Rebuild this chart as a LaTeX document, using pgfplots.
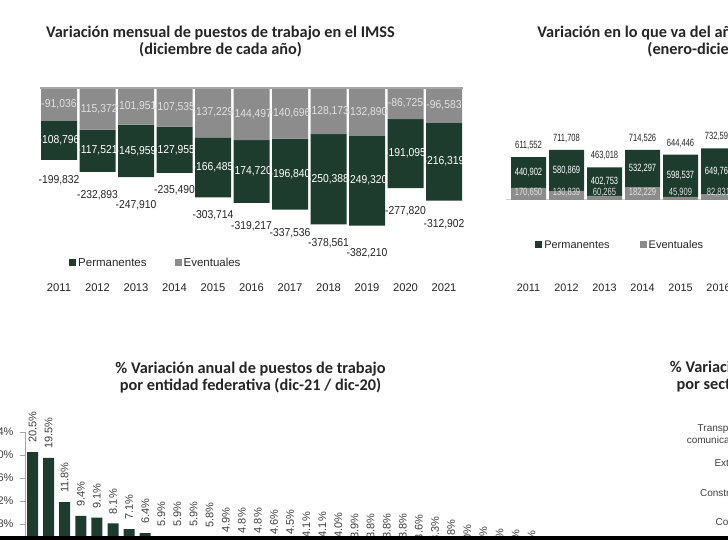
\documentclass[border=0pt]{standalone}
\usepackage{pgfplots}
\pgfplotsset{compat=1.18}
\usepackage{pgfplotstable}
\usepackage{fontspec}
\setmainfont{Liberation Sans}
\newfontfamily\titlefont{Carlito}
\newfontfamily\narrowfont[FakeStretch=0.72]{Liberation Sans}
\newfontfamily\semifont[FakeStretch=0.9]{Liberation Sans}
\definecolor{pgreen}{HTML}{1D3C2E}
\definecolor{egray}{HTML}{8C8C8C}
\definecolor{txt}{HTML}{262626}
\definecolor{lab}{HTML}{404040}
\tikzset{numlab/.style={/pgf/number format/fixed,/pgf/number format/precision=0,/pgf/number format/1000 sep={,},/pgf/number format/assume math mode=true}}

\pgfplotstableread{
x E P T off
0 -91036 -108796 -199832 20
1 -115372 -117521 -232893 23
2 -101951 -145959 -247910 28
3 -107535 -127955 -235490 17
4 -137229 -166485 -303714 18
5 -144497 -174720 -319217 23
6 -140696 -196840 -337536 24
7 -128173 -250388 -378561 19
8 -132890 -249320 -382210 28
9 -86725 -191095 -277820 23
10 -96583 -216319 -312902 24
}\mensual

\pgfplotstableread{
x E P T
0 170650 440902 611552
1 130839 580869 711708
2 60265 402753 463018
3 182229 532297 714526
4 45909 598537 644446
5 82831 649760 732591
}\anual

\pgfplotstableread{
x v
0 20.5
1 19.5
2 11.8
3 9.4
4 9.1
5 8.1
6 7.1
7 6.4
8 5.9
9 5.9
10 5.9
11 5.8
12 4.9
13 4.8
14 4.8
15 4.6
16 4.5
17 4.1
18 4.1
19 4.0
20 3.9
21 3.8
22 3.8
23 3.8
24 3.6
25 3.3
26 2.8
27 2.0
28 1.6
29 1.2
30 1.0
31 0.8
}\entidad

\begin{document}
\begin{tikzpicture}
\useasboundingbox (0,0) rectangle (728pt,540pt);
\clip (0,0) rectangle (728pt,540pt);
\fill[white] (0,0) rectangle (728pt,540pt);

% ---------- Top-left: monthly variation (stacked negative bars)
\begin{axis}[
  at={(39.75pt,260pt)}, anchor=south west,
  scale only axis, width=423.5pt, height=192pt,
  xmin=-0.5, xmax=10.5, ymin=-533333, ymax=0,
  ybar stacked, bar width=36pt, axis on top,
  axis line style={draw=none}, major tick style={draw=none},
  xtick={0,...,10},
  xticklabels={2011,2012,2013,2014,2015,2016,2017,2018,2019,2020,2021},
  xticklabel style={font=\fontsize{11.2}{13}\selectfont, text=txt},
  ytick={0}, yticklabels={}, scaled y ticks=false, ymajorgrids,
  grid style={draw=gray!70, line width=1.5pt},
  legend columns=2, reverse legend,
  legend style={draw=none, fill=none, at={(0.062,0.0885)}, anchor=west,
    font=\fontsize{11.5}{13}\selectfont, text=txt,
    /tikz/every even column/.append style={column sep=26pt}},
  legend image code/.code={\fill[#1] (0pt,-3pt) rectangle (7pt,4pt);},
]
\addplot[fill=egray, draw=none] table[x=x,y=E]{\mensual};
\addplot[fill=pgreen, draw=none] table[x=x,y=P]{\mensual};
\legend{Eventuales,Permanentes}
\end{axis}
\begin{axis}[
  at={(39.75pt,260pt)}, anchor=south west,
  scale only axis, width=423.5pt, height=192pt,
  xmin=-0.5, xmax=10.5, ymin=-533333, ymax=0,
  hide axis, clip=false,
  nodes near coords, point meta=explicit,
  every node near coord/.append style={anchor=center, numlab, font=\semifont\fontsize{11.5}{13}\selectfont},
]
\addplot[draw=none, mark=none, every node near coord/.append style={text=white!88!black}] table[x=x, y expr=\thisrow{E}/2, meta=E]{\mensual};
\addplot[draw=none, mark=none, every node near coord/.append style={text=white}] table[x=x, y expr=\thisrow{E}+\thisrow{P}/2, meta=P]{\mensual};
\addplot[draw=none, mark=none, every node near coord/.append style={text=txt}] table[x=x, y expr=\thisrow{T}-\thisrow{off}*2777.8, meta=T]{\mensual};
\end{axis}

% ---------- Top-right: year-to-date variation (stacked positive bars)
\begin{axis}[
  at={(505.7pt,260pt)}, anchor=south west,
  scale only axis, width=425.6pt, height=180pt,
  xmin=-0.6, xmax=10.6, ymin=-1138000, ymax=1422500,
  ybar stacked, bar width=35pt,
  axis line style={draw=none}, major tick style={draw=none},
  xtick={0,...,10},
  xticklabels={2011,2012,2013,2014,2015,2016,2017,2018,2019,2020,2021},
  xticklabel style={font=\fontsize{10.8}{13}\selectfont, text=txt},
  ytick={0}, yticklabels={}, scaled y ticks=false, ymajorgrids,
  grid style={draw=gray!35, line width=1pt},
  legend columns=2, reverse legend,
  legend style={draw=none, fill=none, at={(0.062,0.194)}, anchor=west,
    font=\fontsize{11}{13}\selectfont, text=txt,
    /tikz/every even column/.append style={column sep=28pt}},
  legend image code/.code={\fill[#1] (0pt,-3pt) rectangle (7pt,4pt);},
]
\addplot[fill=egray, draw=none] table[x=x,y=E]{\anual};
\addplot[fill=pgreen, draw=none] table[x=x,y=P]{\anual};
\legend{Eventuales,Permanentes}
\end{axis}
\begin{axis}[
  at={(505.7pt,260pt)}, anchor=south west,
  scale only axis, width=425.6pt, height=180pt,
  xmin=-0.6, xmax=10.6, ymin=-1138000, ymax=1422500,
  hide axis, clip=false,
  nodes near coords, point meta=explicit,
  every node near coord/.append style={anchor=center, numlab, font=\narrowfont\fontsize{10.5}{12}\selectfont},
]
\addplot[draw=none, mark=none, every node near coord/.append style={text=white!88!black}] table[x=x, y expr={max(\thisrow{E}/2,110000)}, meta=E]{\anual};
\addplot[draw=none, mark=none, every node near coord/.append style={text=white}] table[x=x, y expr=\thisrow{E}+\thisrow{P}/2, meta=P]{\anual};
\addplot[draw=none, mark=none, every node near coord/.append style={text=txt}] table[x=x, y expr=\thisrow{T}+165000, meta=T]{\anual};
\end{axis}

% ---------- Bottom-left: % annual variation by state
\begin{axis}[
  at={(25pt,-30pt)}, anchor=south west,
  scale only axis, width=514.7pt, height=138pt,
  xmin=-0.466, xmax=31.5, ymin=0, ymax=24,
  ybar, bar width=11pt, clip=false,
  axis x line=none, axis y line*=left,
  axis line style={gray!70}, major tick style={gray!70},
  tick align=outside, major tick length=5pt,
  xtick=\empty,
  ytick={0,4,...,24},
  yticklabel={\pgfmathprintnumber[assume math mode=true]{\tick}\%},
  yticklabel style={font=\fontsize{11}{13}\selectfont, text=lab, xshift=-3pt},
  nodes near coords={\pgfmathprintnumber[fixed,fixed zerofill,precision=1,assume math mode=true]{\pgfplotspointmeta}\%},
  every node near coord/.append style={rotate=90, anchor=west, inner xsep=9pt, font=\fontsize{11}{13}\selectfont, text=lab},
]
\addplot[fill=pgreen, draw=none] table[x=x,y=v]{\entidad};
\end{axis}

% ---------- Bottom-right: % annual variation by sector (category labels visible only)
\begin{axis}[
  at={(762pt,3.5pt)}, anchor=south west,
  scale only axis, width=100pt, height=117.2pt,
  xmin=0, xmax=1, ymin=-0.5, ymax=3.5, y dir=reverse,
  axis line style={draw=none}, major tick style={draw=none},
  xtick=\empty, ytick={0,1,2,3},
  yticklabels={{Transportes y\\comunicaciones},Extractiva,Construcción,Comercio},
  yticklabel style={align=right, font=\fontsize{10}{12}\selectfont, text=lab},
]
\end{axis}

% ---------- titles
\node[align=center, text=txt, font=\titlefont\bfseries\fontsize{16.3}{17}\selectfont] at (220.5pt,498.5pt) {Variación mensual de puestos de trabajo en el IMSS\\(diciembre de cada año)};
\node[align=center, text=txt, font=\titlefont\bfseries\fontsize{16.3}{17}\selectfont] at (751pt,498.5pt) {Variación en lo que va del año de puestos de trabajo en el IMSS\\(enero-diciembre de cada año)};
\node[align=center, text=txt, font=\titlefont\bfseries\fontsize{16.3}{17}\selectfont] at (250.5pt,162.5pt) {\% Variación anual de puestos de trabajo\\por entidad federativa (dic-21 / dic-20)};
\node[align=center, text=txt, font=\titlefont\bfseries\fontsize{16.3}{17}\selectfont] at (805pt,163pt) {\% Variación anual de puestos de trabajo\\por sector económico (dic-21 / dic-20)};

\fill[black] (0,0) rectangle (728pt,3.5pt);
\end{tikzpicture}
\end{document}
